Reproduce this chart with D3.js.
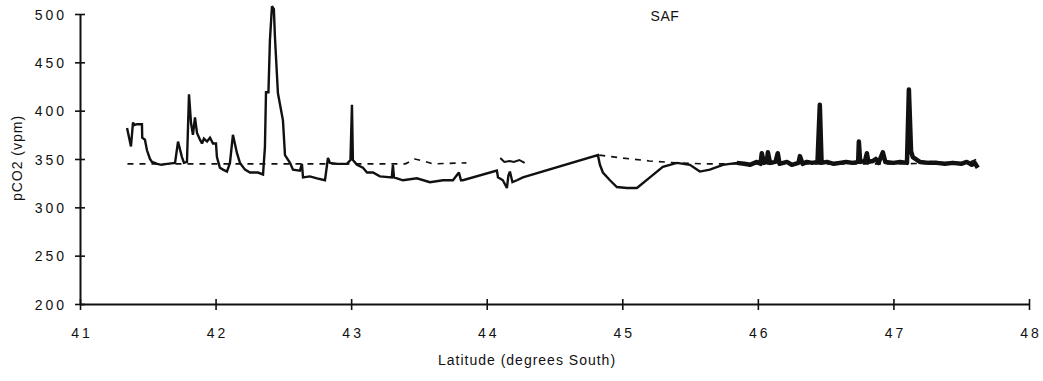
<!DOCTYPE html>
<html>
<head>
<meta charset="utf-8">
<script src="https://cdn.jsdelivr.net/npm/d3@7"></script>
<style>
  html, body { margin: 0; padding: 0; background: #fff; }
  svg { display: block; }
  text { font-family: "Liberation Sans", Arial, Helvetica, sans-serif; fill: #111; }
</style>
</head>
<body>
<svg id="chart" width="1043" height="381"></svg>
<script>
// Underway surface-water pCO2 along the transect (latitude, degrees South)
const seaLat = [
  41.347, 41.376, 41.391, 41.398, 41.420, 41.457, 41.459, 41.479, 41.494, 41.516,
  41.531, 41.570, 41.600, 41.642, 41.701, 41.723, 41.752, 41.767, 41.789, 41.804,
  41.819, 41.833, 41.848, 41.863, 41.885, 41.900, 41.914, 41.937, 41.959, 41.981,
  42.003, 42.010, 42.032, 42.055, 42.084, 42.106, 42.128, 42.158, 42.180, 42.217,
  42.254, 42.313, 42.350, 42.364, 42.372, 42.390, 42.401, 42.416, 42.430, 42.438,
  42.460, 42.497, 42.512, 42.549, 42.571, 42.622, 42.637, 42.645, 42.696, 42.748,
  42.807, 42.829, 42.844, 42.900, 42.969, 42.995, 43.006, 43.013, 43.043, 43.087,
  43.117, 43.161, 43.212, 43.300, 43.308, 43.316, 43.382, 43.485, 43.581, 43.677,
  43.751, 43.795, 43.810, 43.824, 44.075, 44.083, 44.119, 44.149, 44.160, 44.171,
  44.190, 44.223, 44.267, 44.820, 44.835, 44.857, 44.909, 44.960, 45.034, 45.108,
  45.204, 45.299, 45.403, 45.499, 45.572, 45.646, 45.742, 45.845, 45.900, 45.941,
  45.993, 46.020, 46.029, 46.045, 46.066, 46.074, 46.090, 46.130, 46.147, 46.160,
  46.214, 46.250, 46.300, 46.310, 46.330, 46.361, 46.400, 46.440, 46.457, 46.470,
  46.509, 46.560, 46.605, 46.650, 46.700, 46.740, 46.745, 46.755, 46.790, 46.804,
  46.815, 46.850, 46.870, 46.890, 46.922, 46.940, 47.000, 47.050, 47.100, 47.114,
  47.130, 47.143, 47.195, 47.260, 47.320, 47.380, 47.438, 47.500, 47.541, 47.578,
  47.600, 47.622
];
const seaPco2 = [
  382, 363, 388, 385, 386, 386, 372, 370, 359, 350,
  347, 345, 344, 345, 346, 368, 352, 346, 347, 417,
  387, 375, 393, 377, 370, 366, 371, 368, 372, 366,
  366, 352, 341, 339, 337, 346, 375, 356, 346, 339,
  336, 336, 334, 362, 419, 419, 473, 508, 505, 476,
  418, 390, 354, 346, 339, 338, 345, 331, 332, 330,
  328, 351, 346, 345, 345, 349, 406, 349, 344, 341,
  336, 336, 332, 331, 344, 331, 328, 330, 326, 328,
  328, 336, 328, 328, 338, 331, 328, 320, 333, 337,
  326, 328, 331, 354, 344, 336, 328, 321, 320, 320,
  331, 342, 346, 344, 337, 339, 344, 346, 345, 344,
  347, 345, 356, 346, 347, 357, 346, 347, 356, 345,
  347, 344, 346, 353, 345, 347, 346, 347, 406, 346,
  347, 345, 346, 347, 346, 347, 368, 347, 348, 356,
  347, 348, 350, 346, 357, 347, 346, 347, 346, 422,
  358, 352, 347, 346, 346, 345, 346, 345, 347, 344,
  346, 341
];
// The record becomes a dense, noisy band south of this latitude
const denseFrom = 45.84;

// Atmospheric pCO2 (dashed); null marks breaks in the record
const airLat = [
  41.35, 42.00, 42.50, 42.90, 43.10, 43.40, 43.47, 43.53, 43.60, 43.85,
  null,
  44.10, 44.13, 44.17, 44.20, 44.24, 44.28,
  null,
  44.83, 45.00, 45.20, 45.40, 45.60, 46.00, 46.50, 47.00, 47.55, 47.62
];
const airPco2 = [
  345, 345, 345, 345, 345, 345, 350, 348, 345, 346,
  null,
  351, 347, 348, 347, 349, 346,
  null,
  354, 351, 348, 346, 345, 345, 345, 345, 346, 350
];

const xTicks = [41, 42, 43, 44, 45, 46, 47, 48];
const yTicks = [200, 250, 300, 350, 400, 450, 500];
const xTitle = "Latitude (degrees South)";
const yTitle = "pCO2 (vpm)";
const frontLabel = "SAF";
const frontLabelLat = 45.315;

const svg = d3.select("#chart");
const x = d3.scaleLinear().domain([41, 48]).range([80, 1029]);
const y = d3.scaleLinear().domain([200, 500]).range([304, 14]);

// Axes with ticks that cross the axis line
const xAxis = svg.append("g")
  .attr("transform", `translate(0,${y(200)})`)
  .call(d3.axisBottom(x).tickValues(xTicks).tickSize(5).tickSizeOuter(0).tickFormat(d3.format("d")));
xAxis.select(".domain").attr("stroke", "#111").attr("stroke-width", 2);
xAxis.selectAll(".tick line").attr("y1", -5).attr("y2", 6).attr("stroke", "#111").attr("stroke-width", 1.6);
xAxis.selectAll(".tick text")
  .attr("y", 24).attr("dy", "0.71em").attr("dx", "1.5px")
  .style("font-size", "14px").style("letter-spacing", "3px").attr("fill", "#111");

const yAxis = svg.append("g")
  .attr("transform", `translate(${x(41)},0)`)
  .call(d3.axisLeft(y).tickValues(yTicks).tickSize(5).tickSizeOuter(0).tickFormat(d3.format("d")));
yAxis.select(".domain").attr("stroke", "#111").attr("stroke-width", 2);
yAxis.selectAll(".tick line").attr("x1", -5).attr("x2", 5).attr("stroke", "#111").attr("stroke-width", 1.6);
yAxis.selectAll(".tick text")
  .attr("x", -13).attr("dy", "0.36em")
  .style("font-size", "14px").style("letter-spacing", "3px").attr("fill", "#111");

// Axis titles
svg.append("text")
  .attr("x", 527).attr("y", 365)
  .attr("text-anchor", "middle")
  .style("font-size", "14px").style("letter-spacing", "1px")
  .text(xTitle);

svg.append("text")
  .attr("transform", `translate(22,${158}) rotate(-90)`)
  .attr("text-anchor", "middle")
  .style("font-size", "14px").style("letter-spacing", "1px")
  .text(yTitle);

svg.append("text")
  .attr("x", x(frontLabelLat)).attr("y", 21)
  .attr("text-anchor", "middle")
  .style("font-size", "14px").style("letter-spacing", "0.5px")
  .text(frontLabel);

// Atmospheric record: dashed, split at the gaps
const airPts = airLat.map((d, i) => [d, airPco2[i]]);
const airSegments = [];
let cur = [];
airPts.forEach(p => {
  if (p[0] === null) { if (cur.length) airSegments.push(cur); cur = []; }
  else cur.push(p);
});
if (cur.length) airSegments.push(cur);

const line = d3.line().x(d => x(d[0])).y(d => y(d[1]));

svg.append("g").selectAll("path")
  .data(airSegments)
  .join("path")
  .attr("d", line)
  .attr("fill", "none")
  .attr("stroke", "#111")
  .attr("stroke-width", (d, i) => i === 1 ? 2 : 1.6)
  .attr("stroke-dasharray", (d, i) => i === 1 ? null : "6,6");

// Sea-surface record: solid, heavier where the sampling is dense
const seaPts = seaLat.map((d, i) => [d, seaPco2[i]]);
svg.append("path")
  .datum(seaPts)
  .attr("d", line)
  .attr("fill", "none")
  .attr("stroke", "#111")
  .attr("stroke-width", 2.4)
  .attr("stroke-linejoin", "miter")
  .attr("stroke-miterlimit", 2);

svg.append("path")
  .datum(seaPts.filter(d => d[0] >= denseFrom))
  .attr("d", line)
  .attr("fill", "none")
  .attr("stroke", "#111")
  .attr("stroke-width", 4.5)
  .attr("stroke-linejoin", "round");
</script>
</body>
</html>
